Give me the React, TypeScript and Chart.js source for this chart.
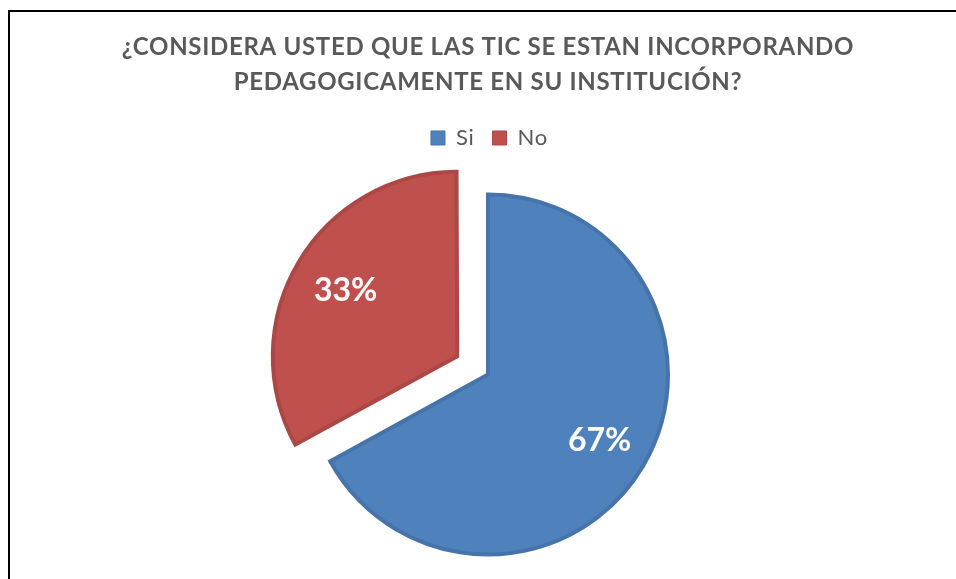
import React, { useEffect, useRef } from "react";
import { Chart, registerables } from "chart.js";

Chart.register(...registerables);

const categories = ["Si", "No"];
const values = [67, 33];
const titleLines = [
  "¿CONSIDERA USTED QUE LAS TIC SE ESTAN INCORPORANDO",
  "PEDAGOGICAMENTE EN SU INSTITUCIÓN?",
];
const fillColors = ["#4F81BD", "#C0504D"];
const edgeColors = ["#4673AA", "#AB4845"];
const explode = [0, 143];

const spacing = {
  id: "spacing",
  beforeDraw(chart: any) {
    (chart.ctx as any).letterSpacing = "0.7px";
  },
  beforeDatasetsDraw(chart: any) {
    (chart.ctx as any).letterSpacing = "0px";
  },
};

const pctLabels = {
  id: "pctLabels",
  afterDatasetsDraw(chart: any) {
    const ctx = chart.ctx;
    const meta = chart.getDatasetMeta(0);
    const data = chart.data.datasets[0].data as number[];
    const total = data.reduce((a, b) => a + b, 0);
    ctx.save();
    ctx.font = "bold 32px Lato";
    ctx.fillStyle = "#ffffff";
    ctx.textAlign = "center";
    ctx.textBaseline = "middle";
    meta.data.forEach((el: any, i: number) => {
      const p = el.getProps(["x", "y", "startAngle", "endAngle", "outerRadius"], true);
      const mid = (p.startAngle + p.endAngle) / 2;
      const off = (el.options.offset || 0) / 4;
      const d = off + p.outerRadius * 0.72;
      ctx.fillText(
        Math.round((data[i] / total) * 100) + "%",
        p.x + Math.cos(mid) * d,
        p.y + Math.sin(mid) * d
      );
    });
    ctx.restore();
  },
};

export default function App() {
  const ref = useRef<HTMLCanvasElement | null>(null);
  useEffect(() => {
    if (!ref.current) return;
    const chart = new Chart(ref.current, {
      type: "pie",
      data: {
        labels: categories,
        datasets: [
          {
            data: values,
            backgroundColor: fillColors,
            borderColor: edgeColors,
            borderWidth: 4,
            borderJoinStyle: "miter",
            offset: explode,
            radius: 180,
            clip: false,
          } as any,
        ],
      },
      options: {
        responsive: false,
        animation: false,
        layout: { padding: { left: 20, right: 0, top: 0, bottom: 10 } },
        plugins: {
          title: {
            display: true,
            text: titleLines,
            color: "#595959",
            font: { family: "Lato", size: 24, weight: "bold", lineHeight: 1.458 },
            padding: { top: 30, bottom: 9 },
          },
          legend: {
            position: "top",
            labels: {
              boxWidth: 14,
              boxHeight: 14,
              padding: 18,
              color: "#595959",
              font: { family: "Lato", size: 22 },
              generateLabels: (c: any) =>
                (Chart as any).overrides.pie.plugins.legend.labels
                  .generateLabels(c)
                  .map((l: any) => ({ ...l, lineWidth: 1 })),
            },
          },
          tooltip: { enabled: false },
        },
      } as any,
      plugins: [spacing, pctLabels],
    });
    return () => chart.destroy();
  }, []);
  return (
    <div
      style={{
        position: "fixed",
        left: 0,
        top: 0,
        width: 956,
        height: 579,
        overflow: "hidden",
        background: "#fff",
      }}
    >
      <canvas
        ref={ref}
        width={956}
        height={600}
        style={{ position: "absolute", left: 0, top: 0, display: "block" }}
      />
      <div
        style={{
          position: "absolute",
          left: 8,
          top: 10,
          width: 1200,
          height: 1200,
          borderTop: "2px solid #000",
          borderLeft: "2px solid #000",
          pointerEvents: "none",
        }}
      />
    </div>
  );
}
